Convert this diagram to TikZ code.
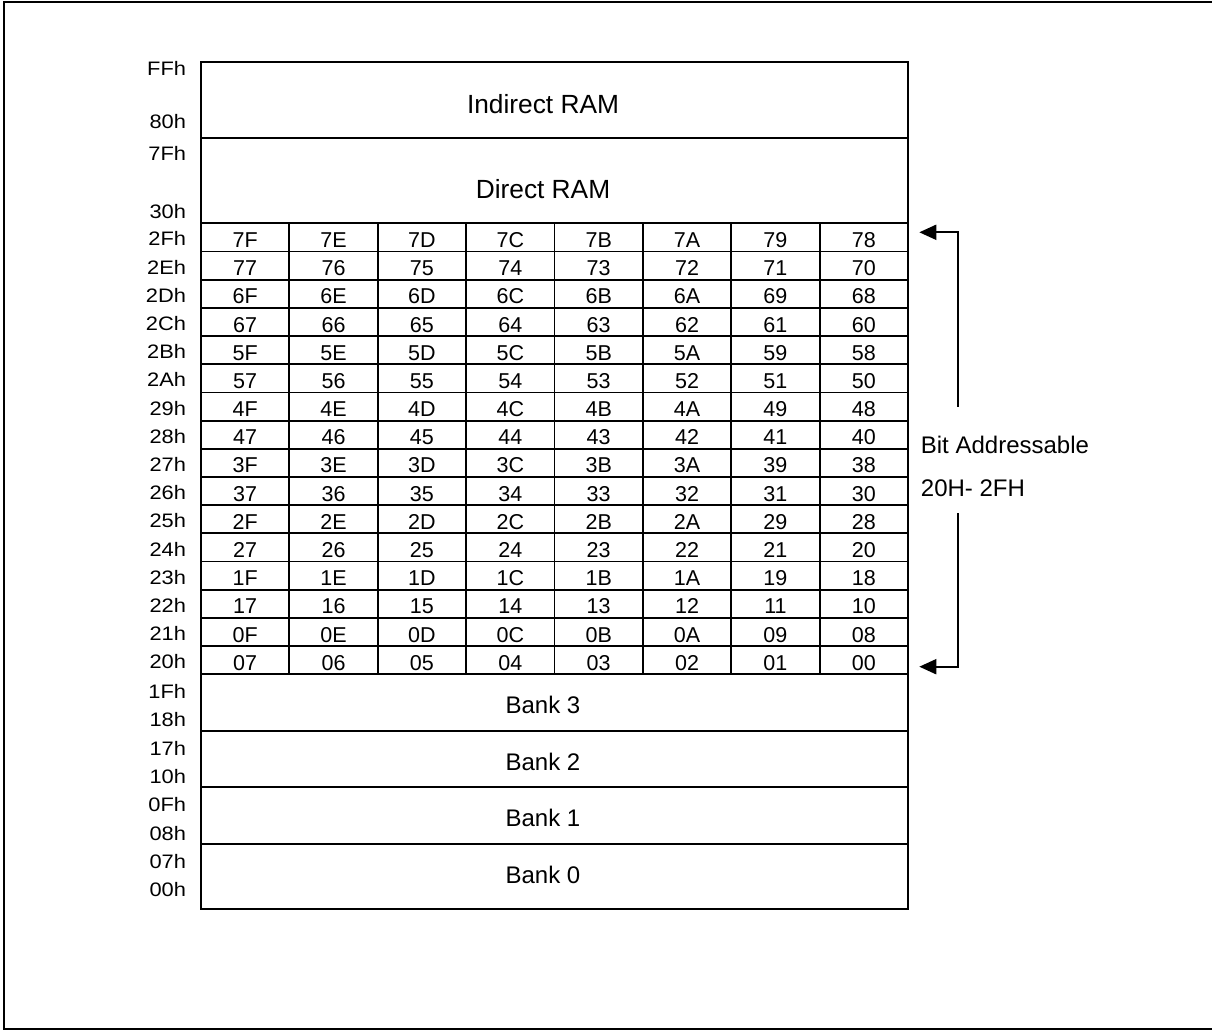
\documentclass[tikz,border=0pt]{standalone}
\usepackage{fontspec}
\setmainfont{Liberation Sans}
\usetikzlibrary{arrows.meta}
\begin{document}
\begin{tikzpicture}[x=1pt,y=-1pt, line width=1.8pt,
  cell/.style={draw, minimum width=88.375pt, minimum height=28.1875pt, inner sep=0pt,
    text height=20.2pt, text depth=0pt, font=\fontsize{21.5}{24}\selectfont},
  box/.style={draw, minimum width=707pt, inner sep=0pt},
  lbl/.style={anchor=base east, inner sep=0pt, font=\fontsize{19.5}{22}\selectfont, xscale=1.12},
  bigtxt/.style={anchor=base, inner sep=0pt, font=\fontsize{26.3}{30}\selectfont},
  banktxt/.style={anchor=base, inner sep=0pt, font=\fontsize{24}{28}\selectfont},
  sidetxt/.style={anchor=base west, inner sep=0pt, font=\fontsize{24}{28}\selectfont},
  arr/.style={line width=2pt, -{Triangle[length=17pt,width=15pt]}}
]
\useasboundingbox (0,0) rectangle (1212,1030);
% outer frame
\draw[line width=2pt] (1214,2) -- (3.5,2) -- (3.5,1028.5) -- (1214,1028.5);

% upper areas
\node[box, minimum height=76pt] (ind) at (554.5,100.3) {};
\node[bigtxt] (indt) at (543,113.3) {Indirect RAM};
\node[box, minimum height=85pt] (dir) at (554.5,180.8) {};
\node[bigtxt] (dirt) at (543,198.3) {Direct RAM};

\node[lbl] (lFF) at (187,76) {FFh};
\node[lbl] (l80) at (187,128.3) {80h};
\node[lbl] (l7F) at (187,160.7) {7Fh};
\node[lbl] (l30) at (187,218.3) {30h};

% bit addressable grid
\foreach \r in {0,...,15}{
  \pgfmathparse{Hex(47-\r)}\edef\rh{\pgfmathresult}
  \node[lbl] (lr\r) at (187,{223.3+28.1875*(\r+1)-5.5}) {\rh h};
  \foreach \k in {0,...,7}{
    \pgfmathtruncatemacro{\v}{(15-\r)*8+7-\k}
    \pgfmathparse{Hex(\v)}\edef\hx{\pgfmathresult}
    \ifnum\v<16 \edef\hx{0\hx}\fi
    \node[cell] (c\r-\k) at ({201+88.375*(\k+0.5)},{223.3+28.1875*(\r+0.5)}) {\hx};
  }
}

% banks
\node[box, minimum height=56.4pt] (b3) at (554.5,702.5) {};
\node[banktxt] (b3t) at (543,713.3) {Bank 3};
\node[box, minimum height=56.6pt] (b2) at (554.5,759) {};
\node[banktxt] (b2t) at (543,770) {Bank 2};
\node[box, minimum height=57pt] (b1) at (554.5,815.8) {};
\node[banktxt] (b1t) at (543,826.8) {Bank 1};
\node[box, minimum height=64.4pt] (b0) at (554.5,876.5) {};
\node[banktxt] (b0t) at (543,883.3) {Bank 0};

\node[lbl] (l1F) at (187,698.3) {1Fh};
\node[lbl] (l18) at (187,726.7) {18h};
\node[lbl] (l17) at (187,755) {17h};
\node[lbl] (l10) at (187,783.3) {10h};
\node[lbl] (l0F) at (187,811.7) {0Fh};
\node[lbl] (l08) at (187,840) {08h};
\node[lbl] (l07) at (187,868.3) {07h};
\node[lbl] (l00) at (187,896.7) {00h};

% side annotation
\node[sidetxt] (ba) at (920,453.3) {Bit Addressable};
\node[sidetxt] (rng) at (920,496) {20H- 2FH};
\coordinate (a1s) at (958.3,406.7);
\coordinate (a1e) at (919.3,232.3);
\coordinate (a2s) at (958.3,513);
\coordinate (a2e) at (919.3,666.7);
\draw[arr] (a1s) |- (a1e);
\draw[arr] (a2s) |- (a2e);
\end{tikzpicture}
\end{document}
